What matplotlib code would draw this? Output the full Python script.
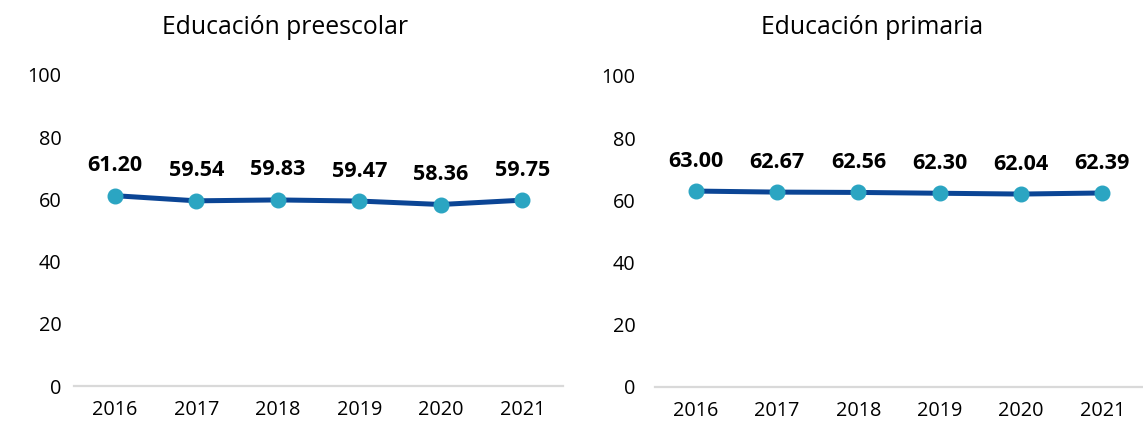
import matplotlib
matplotlib.use("Agg")
import matplotlib.pyplot as plt

plt.rcParams["font.family"] = ["Open Sans", "DejaVu Sans"]

years = ["2016", "2017", "2018", "2019", "2020", "2021"]
preescolar = [61.20, 59.54, 59.83, 59.47, 58.36, 59.75]
primaria = [63.00, 62.67, 62.56, 62.30, 62.04, 62.39]

LINE_COLOR = "#0b4595"
MARKER_COLOR = "#2ba5c2"


def draw_panel(ax, values, ytick_pad):
    x = range(len(years))
    ax.plot(x, values, color=LINE_COLOR, linewidth=3.6, zorder=2,
            solid_capstyle="round")
    ax.plot(x, values, linestyle="none", marker="o", markersize=10.5,
            color=MARKER_COLOR, zorder=3)
    for xi, v in zip(x, values):
        ax.annotate(f"{v:.2f}", (xi, v), xytext=(0, 14),
                    textcoords="offset points", ha="center", va="bottom",
                    fontsize=15.5, fontweight="bold", color="black")

    ax.set_xlim(-0.5, len(years) - 0.5)
    ax.set_ylim(0, 100)
    ax.set_xticks(list(x))
    ax.set_xticklabels(years)
    ax.set_yticks([0, 20, 40, 60, 80, 100])
    ax.tick_params(axis="x", length=0, pad=10, labelsize=14.3)
    ax.tick_params(axis="y", length=0, pad=ytick_pad, labelsize=14.3)
    for side in ("top", "right", "left"):
        ax.spines[side].set_visible(False)
    ax.spines["bottom"].set_color("#d9d9d9")
    ax.spines["bottom"].set_linewidth(1.6)
    ax.set_facecolor("none")


fig = plt.figure(figsize=(11.43, 4.25), dpi=100)

ax1 = fig.add_axes([74 / 1143, 39 / 425, 489 / 1143, 311 / 425])
draw_panel(ax1, preescolar, 9)
fig.text(285 / 1143, 1 - 28 / 425, "Educación preescolar",
         ha="center", va="center", fontsize=17.8)

ax2 = fig.add_axes([655 / 1143, 38 / 425, 488 / 1143, 311 / 425])
draw_panel(ax2, primaria, 14)
fig.text(872 / 1143, 1 - 28 / 425, "Educación primaria",
         ha="center", va="center", fontsize=17.8)

fig.savefig("out.png", dpi=100)
plt.close(fig)
